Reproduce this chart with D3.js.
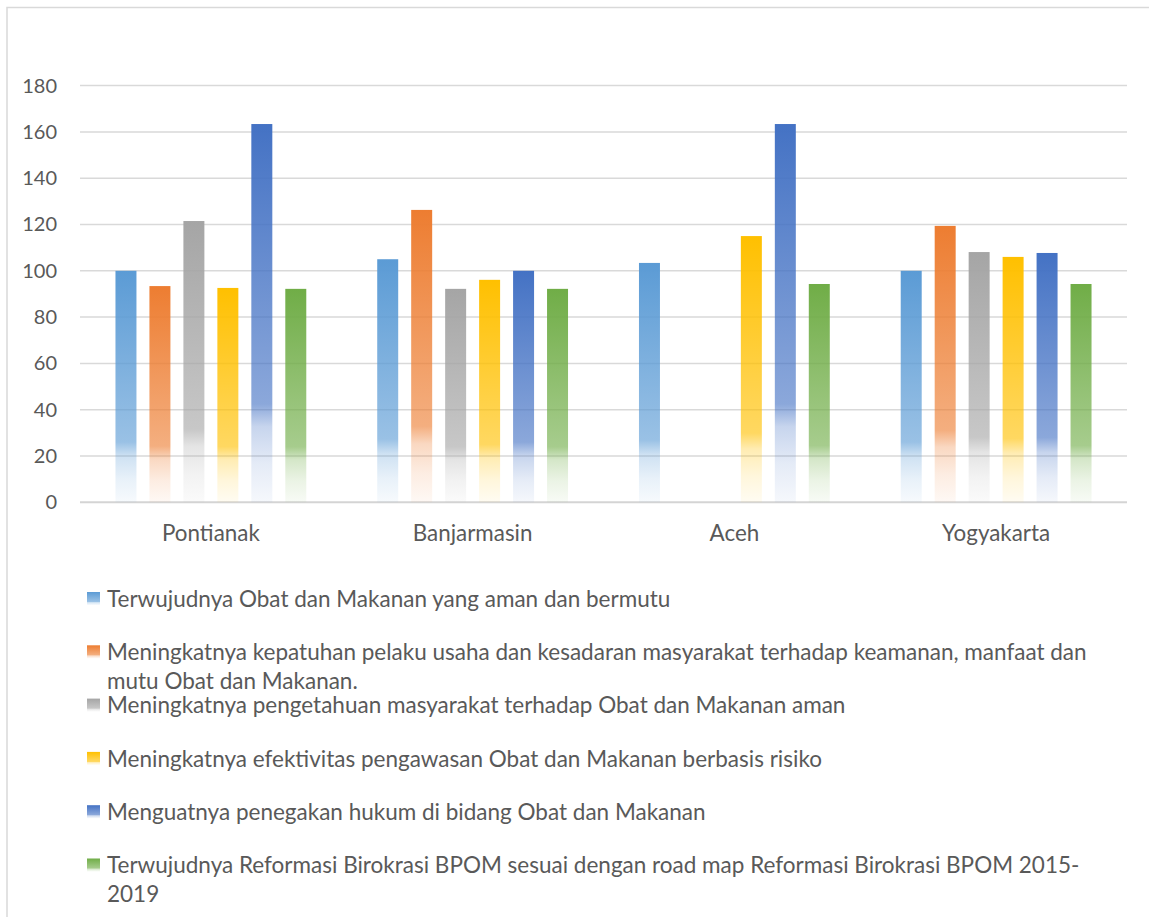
<!DOCTYPE html>
<html>
<head>
<meta charset="utf-8">
<script src="https://cdn.jsdelivr.net/npm/d3@7"></script>
<style>
  html, body { margin: 0; padding: 0; background: #fff; }
  svg { display: block; font-family: Lato, "Open Sans", sans-serif; }
</style>
</head>
<body>
<div id="chart"></div>
<script>
// Categories (cities) and series
const categories = ["Pontianak", "Banjarmasin", "Aceh", "Yogyakarta"];

const seriesNames = [
    "Terwujudnya Obat dan Makanan yang aman dan bermutu",
    "Meningkatnya kepatuhan pelaku usaha dan kesadaran masyarakat terhadap keamanan, manfaat dan\nmutu Obat dan Makanan.",
    "Meningkatnya pengetahuan masyarakat terhadap Obat dan Makanan aman",
    "Meningkatnya efektivitas pengawasan Obat dan Makanan berbasis risiko",
    "Menguatnya penegakan hukum di bidang Obat dan Makanan",
    "Terwujudnya Reformasi Birokrasi BPOM sesuai dengan road map Reformasi Birokrasi BPOM 2015-\n2019"
];

const seriesColors = ["#5B9BD5", "#ED7D31", "#A5A5A5", "#FFC000", "#4472C4", "#70AD47"];

// values per series, one per city (null = no bar)
const amanBermutu   = [100, 105, 103.4, 100];
const kepatuhan     = [93.4, 126.3, null, 119.4];
const pengetahuan   = [121.5, 92.2, null, 108.1];
const efektivitas   = [92.6, 96.1, 115, 106];
const penegakan     = [163.4, 100, 163.4, 107.7];
const reformasi     = [92.2, 92.2, 94.3, 94.3];

const seriesValues = [amanBermutu, kepatuhan, pengetahuan, efektivitas, penegakan, reformasi];

const yTicks = [0, 20, 40, 60, 80, 100, 120, 140, 160, 180];

function drawChart() {
    const width = 1149, height = 917;
    const plot = { left: 80, right: 1127, top: 85.6, bottom: 502.3 };

    const svg = d3.select('#chart').append('svg')
        .attr('width', width)
        .attr('height', height);

    // gradients: solid at top, fading out near the bottom
    const defs = svg.append('defs');
    seriesColors.forEach((c, i) => {
        const g = defs.append('linearGradient')
            .attr('id', 'grad' + i)
            .attr('x1', 0).attr('y1', 0).attr('x2', 0).attr('y2', 1);
        const stops = [[0, 1], [0.74, 0.62], [0.8, 0.3], [0.9, 0.14], [1, 0.05]];
        stops.forEach(s => {
            g.append('stop')
                .attr('offset', s[0])
                .attr('stop-color', c)
                .attr('stop-opacity', s[1]);
        });
    });

    // chart frame (only top and left edges visible)
    svg.append('path')
        .attr('d', `M7,${height} L7,7.5 L${width},7.5`)
        .attr('fill', 'none')
        .attr('stroke', '#d9d9d9')
        .attr('stroke-width', 1.5);

    const x0 = d3.scaleBand()
        .domain(categories)
        .range([plot.left, plot.right])
        .paddingInner(0.271)
        .paddingOuter(0.1355);

    const x1 = d3.scaleBand()
        .domain(d3.range(seriesValues.length))
        .range([0, x0.bandwidth()])
        .paddingInner(0.382)
        .paddingOuter(0);

    const y = d3.scaleLinear()
        .domain([0, 180])
        .range([plot.bottom, plot.top]);

    // gridlines
    svg.append('g')
        .selectAll('line')
        .data(yTicks)
        .enter()
        .append('line')
        .attr('x1', plot.left)
        .attr('x2', plot.right)
        .attr('y1', d => y(d))
        .attr('y2', d => y(d))
        .attr('stroke', d => d === 0 ? '#d4d4d4' : '#d9d9d9')
        .attr('stroke-width', d => d === 0 ? 2 : 1.5);

    // y axis labels
    const yAxis = d3.axisLeft(y).tickValues(yTicks).tickSize(0).tickPadding(0);
    const yg = svg.append('g')
        .attr('transform', 'translate(57,0)')
        .call(yAxis);
    yg.select('.domain').remove();
    yg.selectAll('text')
        .attr('fill', '#595959')
        .style('font-size', '20px')
        .style('font-family', 'Lato, sans-serif');

    // bars
    const groups = svg.append('g')
        .selectAll('g')
        .data(categories)
        .enter()
        .append('g')
        .attr('transform', d => `translate(${x0(d)},0)`);

    groups.selectAll('rect')
        .data((d, ci) => seriesValues.map((vals, si) => ({ si, v: vals[ci] })).filter(b => b.v != null))
        .enter()
        .append('rect')
        .attr('x', d => x1(d.si))
        .attr('width', x1.bandwidth())
        .attr('y', d => y(d.v))
        .attr('height', d => y(0) - y(d.v))
        .attr('fill', d => `url(#grad${d.si})`);

    // x axis labels
    const xAxis = d3.axisBottom(x0).tickSize(0).tickPadding(0);
    const xg = svg.append('g')
        .attr('transform', `translate(0,${plot.bottom + 31})`)
        .call(xAxis);
    xg.select('.domain').remove();
    xg.selectAll('text')
        .attr('fill', '#595959')
        .attr('dy', '0.35em')
        .style('font-size', '22.4px')
        .style('font-family', 'Lato, sans-serif');

    // legend
    const legendTop = 599, legendStep = 53.3, lineHeight = 28.5;
    const legend = svg.append('g')
        .selectAll('g')
        .data(seriesNames)
        .enter()
        .append('g')
        .attr('transform', (d, i) => `translate(87,${legendTop + i * legendStep})`);

    legend.append('rect')
        .attr('x', 0)
        .attr('y', -7)
        .attr('width', 13)
        .attr('height', 13)
        .attr('fill', (d, i) => `url(#grad${i})`);

    legend.append('text')
        .attr('fill', '#595959')
        .style('font-size', '22.5px')
        .selectAll('tspan')
        .data(d => d.split('\n'))
        .enter()
        .append('tspan')
        .attr('x', 20)
        .attr('y', (d, i) => i * lineHeight)
        .attr('dy', '0.35em')
        .text(d => d);
}

drawChart();
</script>
</body>
</html>
